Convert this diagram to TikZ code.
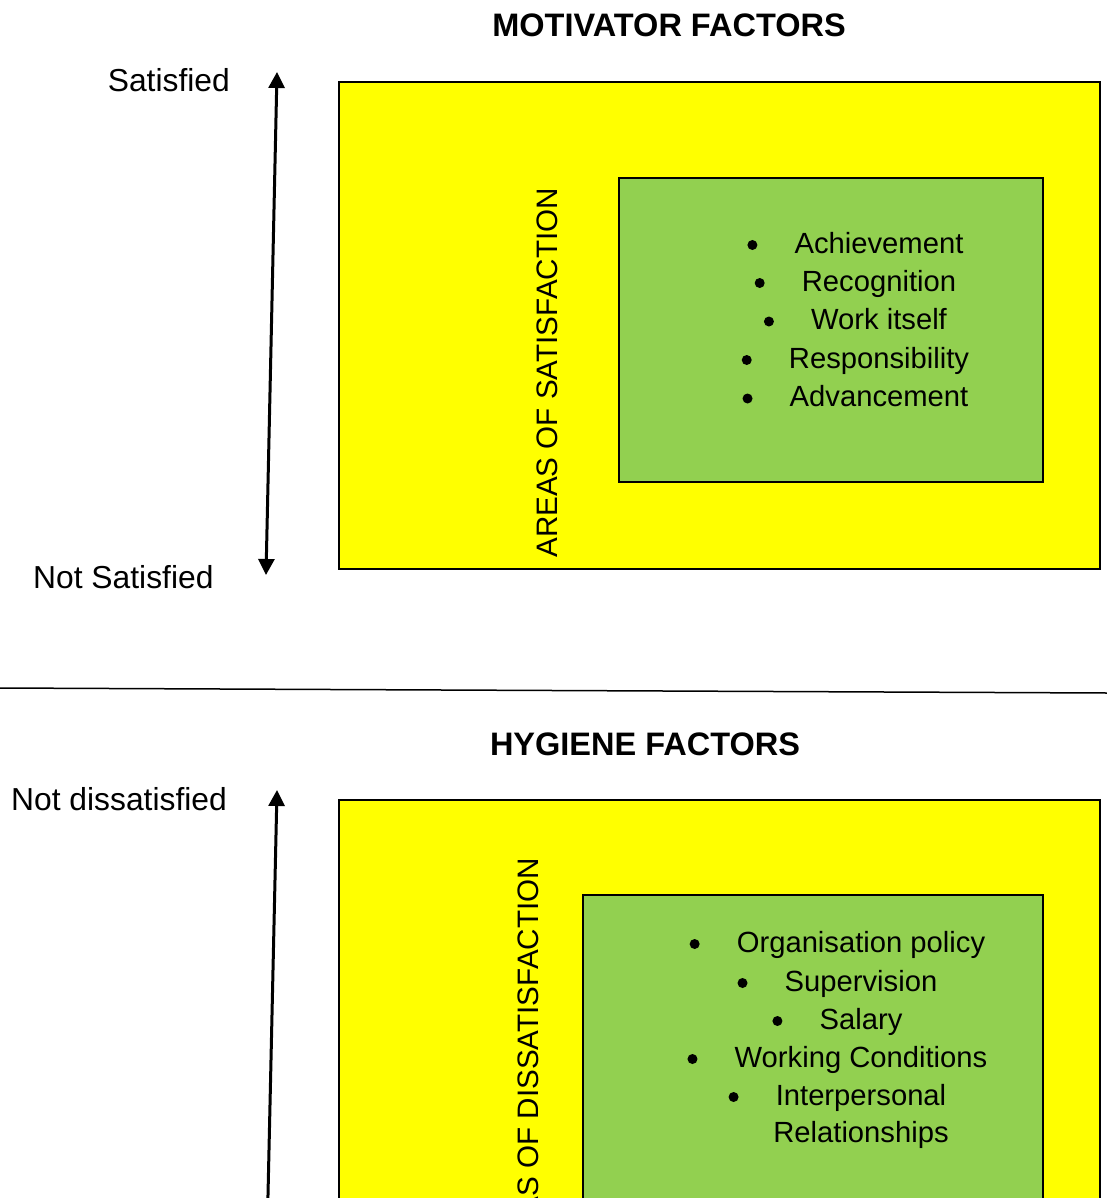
\documentclass[tikz,border=0pt]{standalone}
\usepackage{fontspec}
\setmainfont{Liberation Sans}
\usetikzlibrary{arrows.meta,calc}
\definecolor{boxyellow}{HTML}{FFFF00}
\definecolor{boxgreen}{HTML}{92D050}
\tikzset{
  outerbox/.style={draw=black, fill=boxyellow, line width=2pt},
  innerbox/.style={draw=black, fill=boxgreen, line width=2pt},
  label/.style={inner sep=0pt, font=\fontsize{31.8}{37}\selectfont},
  title/.style={inner sep=0pt, font=\fontsize{32.5}{37}\selectfont\bfseries},
  vtext/.style={inner sep=0pt, rotate=90, anchor=east, font=\fontsize{29.6}{35}\selectfont},
  item/.style={inner sep=0pt, anchor=base, font=\fontsize{29.2}{35}\selectfont},
  bul/.style={circle, fill=black, inner sep=0pt, minimum size=10pt},
  scalearrow/.style={line width=3pt, {Triangle[length=16pt,width=16pt]}-{Triangle[length=16pt,width=16pt]}},
  uparrow/.style={line width=3pt, -{Triangle[length=16pt,width=16pt]}},
}
\begin{document}
\begin{tikzpicture}[x=1pt,y=-1pt]
\useasboundingbox (0,0) rectangle (1107,1198);
\clip (0,0) rectangle (1107,1198);
\fill[white] (0,0) rectangle (1107,1198);

% ---------- Motivator factors ----------
\node[title, anchor=base] (t1) at (669,37) {MOTIVATOR FACTORS};
\draw[outerbox] (339,82) rectangle (1100,569);
\draw[innerbox] (619,178) rectangle (1043,482);
\node[vtext] (v1) at (547,188) {AREAS OF SATISFACTION};

\node[item] (a1) at (879,253) {Achievement};
\node[item] (a2) at (879,291) {Recognition};
\node[item] (a3) at (879,329.5) {Work itself};
\node[item] (a4) at (879,368) {Responsibility};
\node[item] (a5) at (879,406.5) {Advancement};
\foreach \n in {a1,a2,a3,a4,a5}
  \node[bul] (b\n) at ($(\n.base west)+(-42,-8)$) {};

\node[label, anchor=base east] (sat) at (230,92) {Satisfied};
\node[label, anchor=base west] (nsat) at (33,588) {Not Satisfied};
\coordinate (s1top) at (277,72);
\coordinate (s1bot) at (266,575);
\draw[scalearrow] (s1bot) -- (s1top);

% ---------- separator ----------
\coordinate (sepL) at (0,688);
\coordinate (sepR) at (1107,693);
\draw[line width=1.5pt] (sepL) -- (sepR);

% ---------- Hygiene factors ----------
\node[title, anchor=base] (t2) at (645,755) {HYGIENE FACTORS};
\draw[outerbox] (339,800) rectangle (1100,1240);
\draw[innerbox] (583,895) rectangle (1043,1240);
\node[vtext] (v2) at (528,858) {AREAS OF DISSATISFACTION};

\node[item] (h1) at (861,952) {Organisation policy};
\node[item] (h2) at (861,991) {Supervision};
\node[item] (h3) at (861,1029) {Salary};
\node[item] (h4) at (861,1067) {Working Conditions};
\node[item] (h5) at (861,1105) {Interpersonal};
\node[item] (h6) at (861,1142) {Relationships};
\foreach \n in {h1,h2,h3,h4,h5}
  \node[bul] (b\n) at ($(\n.base west)+(-42,-8)$) {};

\node[label, anchor=base west] (ndis) at (11,810) {Not dissatisfied};
\coordinate (s2top) at (277,790);
\coordinate (s2bot) at (267,1240);
\draw[uparrow] (s2bot) -- (s2top);
\end{tikzpicture}
\end{document}
